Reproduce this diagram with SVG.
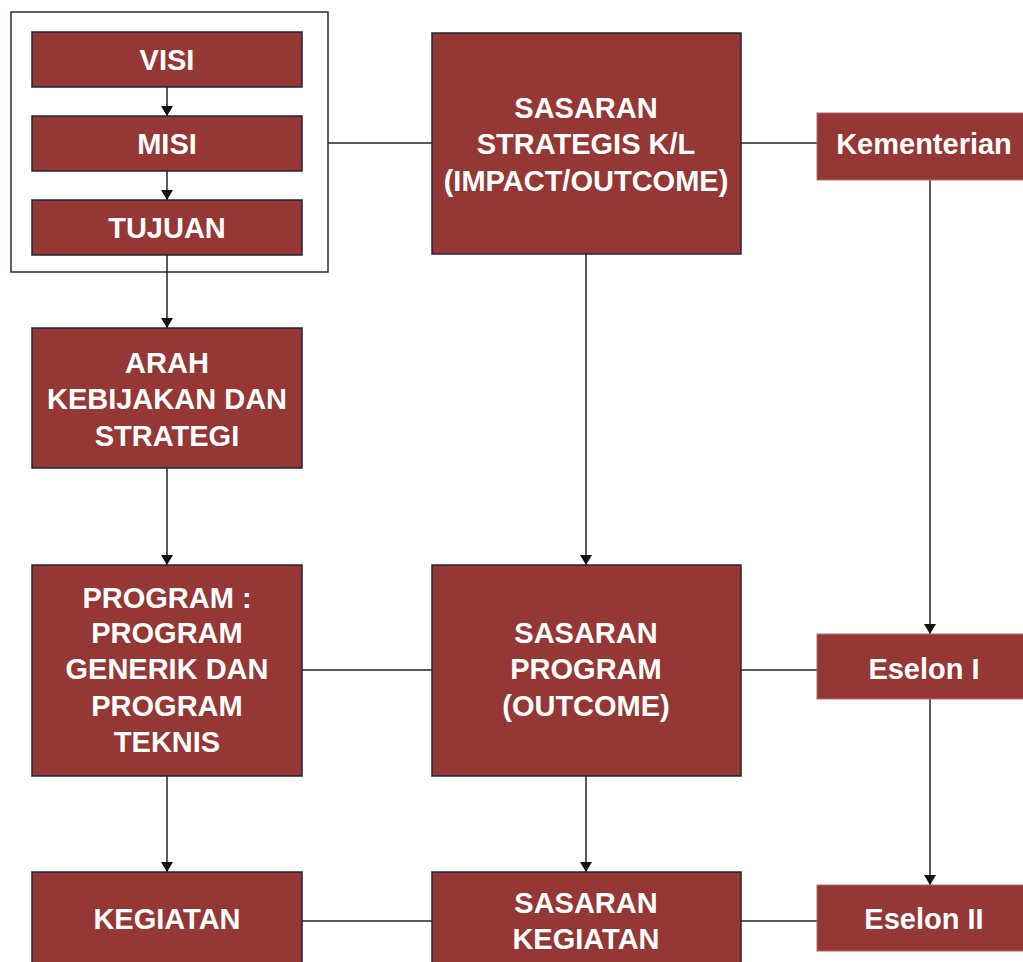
<svg xmlns="http://www.w3.org/2000/svg" width="1023" height="962" viewBox="0 0 1023 962">
  <style>
    .box { fill: #953735; stroke: #24243f; stroke-width: 1.5; }
    .side { fill: #953735; stroke: #b86a68; stroke-width: 1; }
    .frame { fill: none; stroke: #1f2a4f; stroke-width: 1.5; }
    .lbl { font-family: "Liberation Sans", Arial, sans-serif; font-weight: bold; font-size: 29px; fill: #ffffff; text-anchor: middle; }
    .link { stroke: #222222; stroke-width: 1.5; fill: none; }
  </style>
  <defs>
    <marker id="arrow" viewBox="0 0 10 12" refX="10" refY="6" markerWidth="10" markerHeight="12" markerUnits="userSpaceOnUse" orient="auto">
      <path d="M0,0 L10,6 L0,12 Z" fill="#111111"/>
    </marker>
  </defs>

  <rect width="1023" height="962" fill="#ffffff"/>

  <!-- frame around the vision / mission / goal stack -->
  <rect id="frame" class="frame" x="11" y="12" width="317" height="260"/>

  <g id="connectors">
    <!-- vertical flow, left column -->
    <line class="link" x1="167" y1="87" x2="167" y2="116" marker-end="url(#arrow)"/>
    <line class="link" x1="167" y1="171" x2="167" y2="200" marker-end="url(#arrow)"/>
    <line class="link" x1="167" y1="255" x2="167" y2="328" marker-end="url(#arrow)"/>
    <line class="link" x1="167" y1="468" x2="167" y2="565" marker-end="url(#arrow)"/>
    <line class="link" x1="167" y1="776" x2="167" y2="872" marker-end="url(#arrow)"/>
    <!-- vertical flow, middle column -->
    <line class="link" x1="586" y1="254" x2="586" y2="565" marker-end="url(#arrow)"/>
    <line class="link" x1="586" y1="776" x2="586" y2="872" marker-end="url(#arrow)"/>
    <!-- vertical flow, right column -->
    <line class="link" x1="930" y1="180" x2="930" y2="634" marker-end="url(#arrow)"/>
    <line class="link" x1="930" y1="699" x2="930" y2="885" marker-end="url(#arrow)"/>
    <!-- horizontal links -->
    <line class="link" x1="328" y1="143" x2="432" y2="143"/>
    <line class="link" x1="741" y1="143" x2="817" y2="143"/>
    <line class="link" x1="302" y1="670" x2="432" y2="670"/>
    <line class="link" x1="741" y1="670" x2="817" y2="670"/>
    <line class="link" x1="302" y1="921" x2="432" y2="921"/>
    <line class="link" x1="741" y1="921" x2="817" y2="921"/>
  </g>

  <g id="visi">
    <rect class="box" x="32" y="32" width="270" height="55"/>
    <text class="lbl" x="167" y="70">VISI</text>
  </g>
  <g id="misi">
    <rect class="box" x="32" y="116" width="270" height="55"/>
    <text class="lbl" x="167" y="154">MISI</text>
  </g>
  <g id="tujuan">
    <rect class="box" x="32" y="200" width="270" height="55"/>
    <text class="lbl" x="167" y="238">TUJUAN</text>
  </g>

  <g id="arah">
    <rect class="box" x="32" y="328" width="270" height="140"/>
    <text class="lbl" x="167" y="372.5">ARAH</text>
    <text class="lbl" x="167" y="408.5">KEBIJAKAN DAN</text>
    <text class="lbl" x="167" y="445.5">STRATEGI</text>
  </g>

  <g id="program">
    <rect class="box" x="32" y="565" width="270" height="211"/>
    <text class="lbl" x="167" y="607.5">PROGRAM :</text>
    <text class="lbl" x="167" y="642.5">PROGRAM</text>
    <text class="lbl" x="167" y="678.5">GENERIK DAN</text>
    <text class="lbl" x="167" y="715.5">PROGRAM</text>
    <text class="lbl" x="167" y="751.5">TEKNIS</text>
  </g>

  <g id="kegiatan">
    <rect class="box" x="32" y="872" width="270" height="100"/>
    <text class="lbl" x="167" y="928.5">KEGIATAN</text>
  </g>

  <g id="sasaran-strategis">
    <rect class="box" x="432" y="33" width="309" height="221"/>
    <text class="lbl" x="586" y="117.5">SASARAN</text>
    <text class="lbl" x="586" y="153.5">STRATEGIS K/L</text>
    <text class="lbl" x="586" y="190.5">(IMPACT/OUTCOME)</text>
  </g>

  <g id="sasaran-program">
    <rect class="box" x="432" y="565" width="309" height="211"/>
    <text class="lbl" x="586" y="642.5">SASARAN</text>
    <text class="lbl" x="586" y="678.5">PROGRAM</text>
    <text class="lbl" x="586" y="715.5">(OUTCOME)</text>
  </g>

  <g id="sasaran-kegiatan">
    <rect class="box" x="432" y="872" width="309" height="100"/>
    <text class="lbl" x="586" y="912.5">SASARAN</text>
    <text class="lbl" x="586" y="948.5">KEGIATAN</text>
  </g>

  <g id="kementerian">
    <rect class="side" x="817" y="113" width="220" height="67"/>
    <text class="lbl" x="924" y="153.5">Kementerian</text>
  </g>

  <g id="eselon-1">
    <rect class="side" x="817" y="634" width="220" height="65"/>
    <text class="lbl" x="924" y="678.5">Eselon I</text>
  </g>

  <g id="eselon-2">
    <rect class="side" x="817" y="885" width="220" height="66"/>
    <text class="lbl" x="924" y="928.5">Eselon II</text>
  </g>
</svg>
